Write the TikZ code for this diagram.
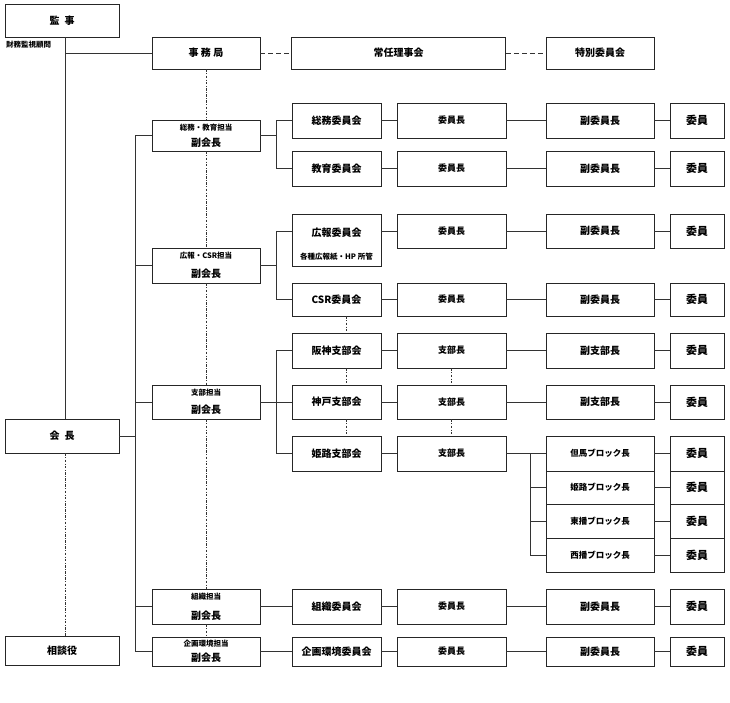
\documentclass[tikz,border=0pt]{standalone}
\usepackage{fontspec}
\setmainfont{Noto Sans CJK JP}

\tikzset{
  box/.style={draw=black!85, line width=0.9pt, fill=white, inner sep=0pt, align=center,
    font=\bfseries\fontsize{10}{12}\selectfont},
  topbox/.style={box, minimum width=114pt},
  vpbox/.style={box, minimum width=108pt},
  cmbox/.style={box, minimum width=89pt},
  chbox/.style={box, minimum width=109pt, font=\bfseries\fontsize{9}{11}\selectfont},
  vcbox/.style={box, minimum width=108pt},
  mbbox/.style={box, minimum width=54pt, font=\bfseries\fontsize{11}{13}\selectfont},
  blkbox/.style={vcbox, font=\bfseries\fontsize{8.5}{10}\selectfont},
  note/.style={inner sep=0pt, font=\bfseries\fontsize{7.5}{9}\selectfont},
  link/.style={draw=black!80, line width=0.7pt},
  dashlink/.style={link, dash pattern=on 5pt off 3pt},
  dotlink/.style={draw=black!80, line width=0.6pt, dash pattern=on 2.5pt off 1.5pt on 0.7pt off 1.5pt},
}
\newcommand{\tanto}[1]{{\fontsize{7.5}{9}\selectfont #1}}

\begin{document}
\begin{tikzpicture}[x=1pt, y=-1pt]
\useasboundingbox (0,0) rectangle (730,703);

% left column
\node[topbox, minimum height=33pt] (kanji) at (62,20.5) {監\hspace{5pt}事};
\node[note, anchor=west] (komon) at (6,45) {財務監視顧問};
\node[topbox, minimum height=34pt] (kaicho) at (62,436) {会\hspace{5pt}長};
\node[topbox, minimum height=29pt] (sodan) at (62,651) {相談役};

% top row
\node[vpbox, minimum height=32pt] (jimu) at (206,53) {事 務 局};
\node[box, minimum width=214pt, minimum height=32pt] (jonin) at (398.5,53) {常任理事会};
\node[vcbox, minimum height=32pt] (tokubetsu) at (600,53) {特別委員会};

% vice presidents
\node[vpbox, minimum height=31pt] (vp1) at (206,135.5) {\tanto{総務・教育担当}\\[4pt]副会長};
\node[vpbox, minimum height=35pt] (vp2) at (206,265.5) {\tanto{広報・CSR担当}\\[7pt]副会長};
\node[vpbox, minimum height=34pt] (vp3) at (206,402) {\tanto{支部担当}\\[6pt]副会長};
\node[vpbox, minimum height=35pt] (vp4) at (206,606.5) {\tanto{組織担当}\\[8pt]副会長};
\node[vpbox, minimum height=29pt] (vp5) at (206,651.5) {\tanto{企画環境担当}\\[3pt]副会長};

% committees
\node[cmbox, minimum height=35pt] (somu) at (336.5,120.5) {総務委員会};
\node[cmbox, minimum height=35pt] (kyoiku) at (336.5,168.5) {教育委員会};
\node[cmbox, minimum height=52pt] (koho) at (336.5,240) {};
\node[inner sep=0pt, font=\bfseries\fontsize{10}{12}\selectfont] (kohoT) at ([yshift=7pt]koho.center) {広報委員会};
\node[note] (kohoS) at ([yshift=-17pt]koho.center) {各種広報紙・HP 所管};
\node[cmbox, minimum height=33pt] (csr) at (336.5,299.5) {CSR委員会};
\node[cmbox, minimum height=35pt] (hanshin) at (336.5,350.5) {阪神支部会};
\node[cmbox, minimum height=34pt] (kobe) at (336.5,402) {神戸支部会};
\node[cmbox, minimum height=35pt] (himeji) at (336.5,453.5) {姫路支部会};
\node[cmbox, minimum height=35pt] (soshiki) at (336.5,606.5) {組織委員会};
\node[cmbox, minimum height=29pt] (kikaku) at (336.5,651.5) {企画環境委員会};

% committee chairs
\foreach \n/\y/\h in {somu/120.5/35, kyoiku/168.5/35, koho/231/34, csr/299.5/33,
                      soshiki/606.5/35, kikaku/651.5/29} {
  \node[chbox, minimum height=\h pt] (\n A) at (451.5,\y) {委員長};
  \node[vcbox, minimum height=\h pt] (\n B) at (600,\y) {副委員長};
  \node[mbbox, minimum height=\h pt] (\n C) at (697,\y) {委員};
  \draw[link] (\n A) -- (\n B);
  \draw[link] (\n B) -- (\n C);
}

% branches
\foreach \n/\y/\h in {hanshin/350.5/35, kobe/402/34} {
  \node[chbox, minimum height=\h pt] (\n A) at (451.5,\y) {支部長};
  \node[vcbox, minimum height=\h pt] (\n B) at (600,\y) {副支部長};
  \node[mbbox, minimum height=\h pt] (\n C) at (697,\y) {委員};
  \draw[link] (\n A) -- (\n B);
  \draw[link] (\n B) -- (\n C);
}
\node[chbox, minimum height=35pt] (himejiA) at (451.5,453.5) {支部長};

% blocks
\coordinate (busC) at (530,0);
\foreach \n/\lbl/\y/\h in {b1/但馬/453.5/35, b2/姫路/487.5/33, b3/東播/521/34, b4/西播/555/34} {
  \node[blkbox, minimum height=\h pt] (\n) at (600,\y) {\lbl ブロック長};
  \node[mbbox, minimum height=\h pt] (\n C) at (697,\y) {委員};
  \draw[link] (\n) -- (\n C);
  \draw[link] (busC |- \n.west) -- (\n.west);
}
\draw[link] (himejiA.east) -- (himejiA.east -| busC);
\draw[link] (busC |- b1.west) -- (busC |- b4.west);

% trunk
\coordinate (trunk) at (65,0);
\draw[link] (trunk |- kanji.south) -- (trunk |- kaicho.north);
\draw[link] (trunk |- jimu.west) -- (jimu.west);
\draw[dashlink] (jimu.east) -- (jonin.west);
\draw[dashlink] (jonin.east) -- (tokubetsu.west);
\draw[dotlink] ([xshift=3pt]kaicho.south) -- ([xshift=3pt]sodan.north);

% president to vice presidents
\coordinate (busA) at (135,0);
\draw[link] (kaicho.east) -- (kaicho.east -| busA);
\draw[link] (busA |- vp1.west) -- (busA |- vp5.west);
\foreach \v in {vp1,vp2,vp3,vp4,vp5}
  \draw[link] (busA |- \v.west) -- (\v.west);

% dotted chain
\foreach \a/\b in {jimu/vp1, vp1/vp2, vp2/vp3, vp3/vp4, vp4/vp5}
  \draw[dotlink] (\a.south) -- (\b.north);
\foreach \a/\b in {csr/hanshin, hanshin/kobe, kobe/himeji}
  \draw[dotlink] ([xshift=10pt]\a.south) -- ([xshift=10pt]\b.north);
\draw[dotlink] (hanshinA.south) -- (kobeA.north);
\draw[dotlink] (kobeA.south) -- (himejiA.north);

% vice presidents to committees
\coordinate (busB) at (276,0);
\foreach \v in {vp1,vp2,vp3}
  \draw[link] (\v.east) -- (\v.east -| busB);
\draw[link] (busB |- somu.west) -- (busB |- kyoiku.west);
\draw[link] (busB |- kohoA.west) -- (busB |- csr.west);
\draw[link] (busB |- hanshin.west) -- (busB |- himeji.west);
\foreach \c in {somu,kyoiku,csr,hanshin,kobe,himeji}
  \draw[link] (busB |- \c.west) -- (\c.west);
\draw[link] (busB |- kohoA.west) -- (koho.west |- kohoA.west);
\draw[link] (vp4.east) -- (soshiki.west);
\draw[link] (vp5.east) -- (kikaku.west);

% committees to chairs
\foreach \c in {somu,kyoiku,csr,hanshin,kobe,himeji,soshiki,kikaku}
  \draw[link] (\c.east) -- (\c A.west);
\draw[link] (koho.east |- kohoA.west) -- (kohoA.west);
\end{tikzpicture}
\end{document}
